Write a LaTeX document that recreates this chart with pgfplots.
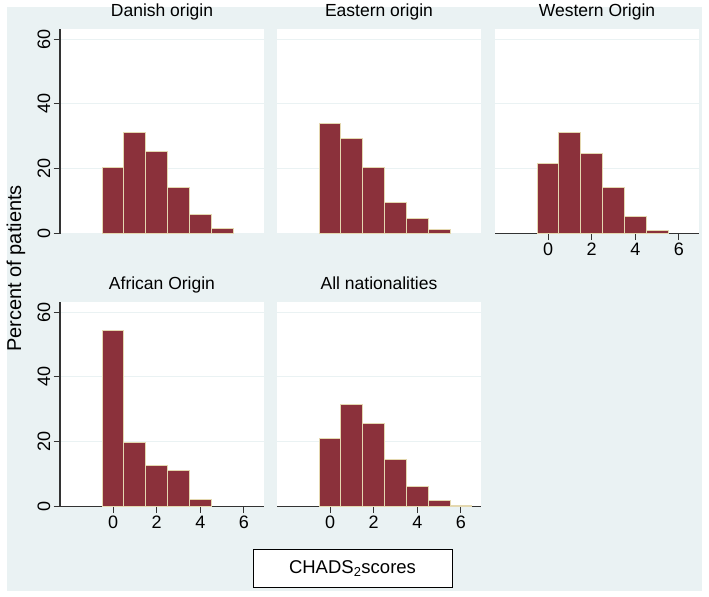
\documentclass[border=0pt]{standalone}
\usepackage{pgfplots}
\pgfplotsset{compat=1.18}
\usepackage{fontspec}
\setmainfont{Liberation Sans}
\definecolor{bgc}{HTML}{EAF2F3}
\definecolor{barc}{HTML}{8B313B}
\definecolor{edgec}{HTML}{E4D8B0}
\definecolor{axc}{HTML}{333333}
\pgfplotsset{
  panel/.style={
    scale only axis, width=204pt, height=205pt,
    xmin=-2.43, xmax=6.92, ymin=0, ymax=63.3,
    axis background/.style={fill=white},
    xtick={0,2,4,6}, ytick={0,20,40,60},
    ymajorgrids, major grid style={color=bgc, line width=1pt},
    tick align=outside, major tick length=6.5pt,
    tick style={color=axc, line width=1pt},
    axis line style={color=axc, line width=1.2pt, -},
    separate axis lines,
    axis x line*=bottom, axis y line*=left,
    /pgf/number format/assume math mode=true,
    tick label style={font=\fontsize{18}{20}\selectfont},
    yticklabel style={rotate=90, anchor=south, inner sep=3pt},
    xticklabel style={inner sep=3pt},
    title style={at={(0.5,1)}, anchor=base, yshift=6.5pt, font=\fontsize{17.5}{19}\selectfont},
    clip=false,
  },
  nox/.style={x axis line style={draw=none}, xmajorticks=false},
  noy/.style={y axis line style={draw=none}, ymajorticks=false},
  bars/.style={ybar, bar width=1, fill=barc, draw=edgec, line width=1pt},
}
\begin{document}
\begin{tikzpicture}[x=1pt,y=1pt]
\fill[white] (0,0) rectangle (709,596);
\fill[bgc] (7,6) rectangle (702,590);
% Danish
\begin{axis}[panel, nox, at={(60pt,363pt)}, anchor=south west, title={Danish origin}]
\addplot[bars] coordinates {(0,20.5) (1,31.1) (2,25.4) (3,14.3) (4,5.9) (5,1.5)};
\end{axis}
% Eastern
\begin{axis}[panel, nox, noy, at={(277pt,363pt)}, anchor=south west, title={Eastern origin}]
\addplot[bars] coordinates {(0,34.1) (1,29.2) (2,20.3) (3,9.5) (4,4.5) (5,1.2)};
\end{axis}
% Western
\begin{axis}[panel, noy, at={(495pt,363pt)}, anchor=south west, title={Western Origin}]
\addplot[bars] coordinates {(0,21.6) (1,31.1) (2,24.6) (3,14.2) (4,5.3) (5,1.0)};
\end{axis}
% African
\begin{axis}[panel, at={(60pt,90pt)}, anchor=south west, title={African Origin}]
\addplot[bars] coordinates {(0,54.5) (1,19.8) (2,12.6) (3,11.0) (4,2.2)};
\end{axis}
% All
\begin{axis}[panel, noy, at={(277pt,90pt)}, anchor=south west, title={All nationalities}]
\addplot[bars] coordinates {(0,21.0) (1,31.4) (2,25.6) (3,14.6) (4,6.1) (5,1.8) (6,0.3)};
\end{axis}
\node[rotate=90, font=\fontsize{20}{22}\selectfont] at (16,328) {Percent of patients};
\draw[fill=white, draw=black, line width=1pt] (253,9) rectangle (452,47);
\node[font=\fontsize{18.5}{20}\selectfont] at (352.5,28) {CHADS\textsubscript{2}scores};
\end{tikzpicture}
\end{document}
